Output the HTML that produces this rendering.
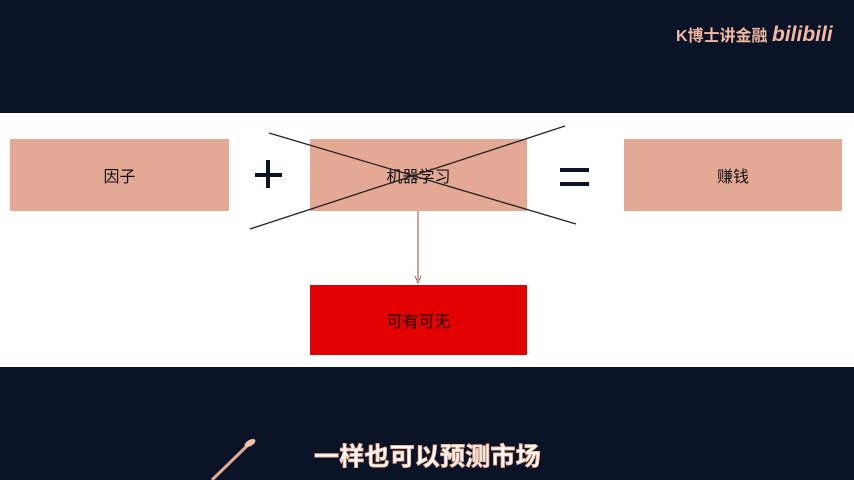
<!DOCTYPE html>
<html><head><meta charset="utf-8"><style>
body{margin:0;width:854px;height:480px;background:#0a1426;position:relative;overflow:hidden;font-family:"Liberation Sans","Noto Sans CJK SC",sans-serif}
.abs{position:absolute}
.box{position:absolute;background:#e4a995;display:flex;align-items:center;justify-content:center;font-size:16px;color:#111}
</style></head><body>
<div class="abs" style="left:676px;top:22px;color:#f2b8a2;font-weight:bold;font-size:16px;white-space:nowrap">K博士讲金融 <span style="font-style:italic;font-size:21px;letter-spacing:0px">bilibili</span></div>
<div class="abs" style="left:0;top:113px;width:854px;height:254px;background:#fff"></div>
<div class="box" style="left:10px;top:139px;width:219px;height:72px">因子</div>
<div class="box" style="left:310px;top:139px;width:217px;height:72px">机器学习</div>
<div class="box" style="left:624px;top:139px;width:218px;height:72px">赚钱</div>
<div class="box" style="left:310px;top:285px;width:217px;height:70px;background:#e20000">可有可无</div>
<svg class="abs" style="left:0;top:0" width="854" height="480">
<line x1="269" y1="133" x2="576" y2="224" stroke="#222" stroke-width="1.3"/>
<line x1="250" y1="229" x2="565" y2="126" stroke="#222" stroke-width="1.3"/>
<line x1="418" y1="211" x2="418" y2="280" stroke="#a86a5a" stroke-width="1.2"/>
<path d="M415 276 L418 283 L421 276" fill="none" stroke="#a86a5a"/>
<rect x="255" y="173" width="27" height="4" fill="#0a1426"/>
<rect x="266" y="160" width="4" height="28" fill="#0a1426"/>
<rect x="560" y="168" width="29" height="4" fill="#0a1426"/>
<rect x="560" y="182" width="29" height="4" fill="#0a1426"/>
<line x1="212" y1="480" x2="250" y2="443" stroke="#e4a995" stroke-width="3"/>
<ellipse cx="250" cy="443" rx="6" ry="3" fill="#f0c0a8" transform="rotate(-30 250 443)"/>
</svg>
<div class="abs" style="left:314px;top:437px;font-size:25px;font-weight:bold;color:#fff;-webkit-text-stroke:1px #f0b49c;white-space:nowrap;letter-spacing:0.2px">一样也可以预测市场</div>
</body></html>
